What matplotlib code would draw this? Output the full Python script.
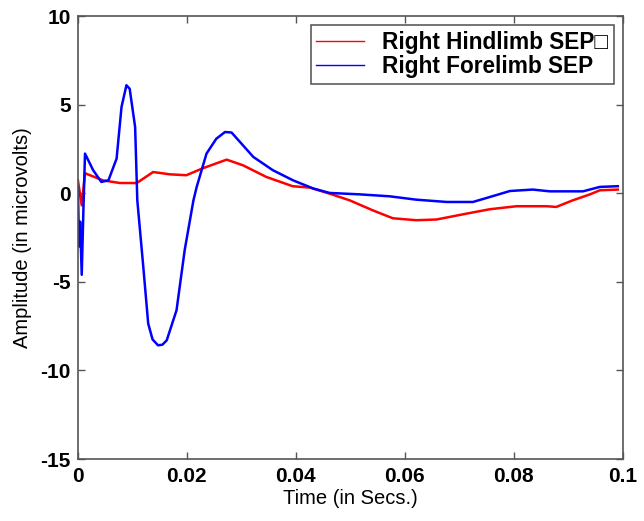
import matplotlib
matplotlib.use("Agg")
import matplotlib.pyplot as plt

# valores (tempo em s, amplitude em microvolts)
t_hind = [0.0, 0.0007, 0.0013, 0.0046, 0.0077, 0.0108, 0.0138, 0.0169, 0.0199,
          0.0229, 0.0273, 0.0303, 0.0346, 0.0394, 0.0426, 0.0462, 0.0499, 0.0541,
          0.0578, 0.0621, 0.0658, 0.0713, 0.0756, 0.0805, 0.0860, 0.0878, 0.0908,
          0.0939, 0.0958, 0.0991]
v_hind = [0.73, -0.68, 1.13, 0.73, 0.58, 0.58, 1.2, 1.07, 1.02,
          1.41, 1.9, 1.58, 0.92, 0.40, 0.32, -0.02, -0.40, -0.96,
          -1.41, -1.52, -1.48, -1.15, -0.90, -0.73, -0.73, -0.77, -0.40,
          -0.07, 0.17, 0.21]

t_fore = [0.0, 0.0002, 0.0004, 0.0007, 0.0010, 0.0013, 0.0028, 0.0043, 0.0056,
          0.0071, 0.0080, 0.0089, 0.0095, 0.0105, 0.0109, 0.0120, 0.0129, 0.0137,
          0.0147, 0.0155, 0.0163, 0.0181, 0.0196, 0.0212, 0.0218, 0.0236, 0.0254,
          0.0270, 0.0282, 0.0322, 0.0358, 0.0395, 0.0432, 0.0462, 0.0517, 0.0572,
          0.0621, 0.0677, 0.0725, 0.0756, 0.0793, 0.0835, 0.0866, 0.0927, 0.0958,
          0.0991]
v_fore = [0.3, -3.0, -1.6, -4.6, -1.0, 2.24, 1.30, 0.64, 0.73,
          1.96, 4.87, 6.1, 5.9, 3.74, -0.4, -4.16, -7.36, -8.25,
          -8.58, -8.55, -8.3, -6.6, -3.2, -0.4, 0.36, 2.24, 3.08,
          3.46, 3.43, 2.05, 1.30, 0.73, 0.27, 0.02, -0.06, -0.17,
          -0.36, -0.49, -0.49, -0.21, 0.13, 0.21, 0.11, 0.11, 0.36,
          0.40]

x_ticks = [0, 0.02, 0.04, 0.06, 0.08, 0.1]
x_labels = ["0", "0.02", "0.04", "0.06", "0.08", "0.1"]
y_ticks = [-15, -10, -5, 0, 5, 10]

plt.rcParams["font.family"] = ["Liberation Sans", "DejaVu Sans"]
plt.rcParams["axes.unicode_minus"] = False

fig = plt.figure(figsize=(6.44, 5.21), dpi=100)
ax = fig.add_axes([0.121, 0.119, 0.846, 0.850])

ax.plot(t_hind, v_hind, color="#ff0000", lw=1.8, label="Right Hindlimb SEP\u25a1")
ax.plot(t_fore, v_fore, color="#0000ff", lw=1.8, label="Right Forelimb SEP")

ax.set_xlim(0, 0.1)
ax.set_ylim(-15, 10)
ax.set_xticks(x_ticks)
ax.set_xticklabels(x_labels)
ax.set_yticks(y_ticks)

for lab in ax.get_xticklabels() + ax.get_yticklabels():
    lab.set_fontweight("bold")
    lab.set_fontsize(15)

ax.tick_params(direction="in", length=5, width=1, color="#555555",
               top=True, right=True)
ax.tick_params(axis="x", pad=6)
ax.tick_params(axis="y", pad=5)
for s in ax.spines.values():
    s.set_color("#555555")
    s.set_linewidth(1.2)

ax.set_xlabel("Time (in Secs.)", fontsize=14.5, labelpad=2)
ax.set_ylabel("Amplitude (in microvolts)", fontsize=14.5, labelpad=6)

leg = ax.legend(loc="upper right", prop={"weight": "bold", "size": 16.3},
                frameon=True, fancybox=False, edgecolor="#333333",
                handlelength=2.1, borderaxespad=0.4, borderpad=0.25,
                labelspacing=0.05, handletextpad=0.8)
leg.get_frame().set_linewidth(1.2)
for line in leg.get_lines():
    line.set_linewidth(1.0)

fig.savefig("out.png", dpi=100)
